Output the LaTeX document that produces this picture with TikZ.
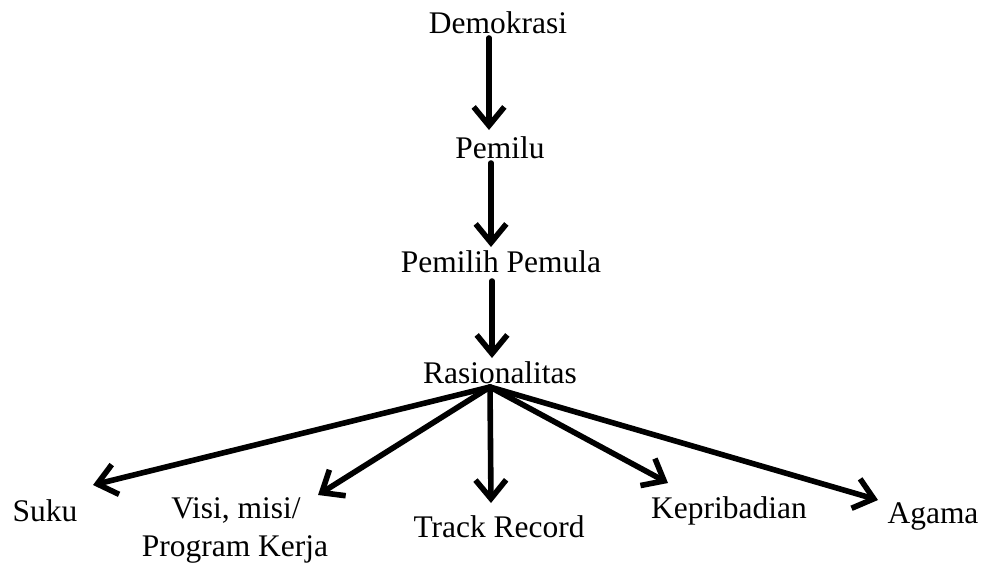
\documentclass[tikz,border=0pt]{standalone}
\usepackage{fontspec}
\setmainfont{Liberation Serif}
\usetikzlibrary{arrows.meta}
\begin{document}
\begin{tikzpicture}[x=0.75pt,y=-0.75pt,
  lbl/.style={anchor=base,inner sep=0pt,font=\fontsize{23.6}{28}\selectfont},
  arr/.style={line width=4.2pt,line cap=round,-{Straight Barb[length=14pt,width=23pt,line width=4.2pt]}}]
\useasboundingbox (0,0) rectangle (988,572);
% text nodes
\node[lbl] (dem) at (498,33) {Demokrasi};
\node[lbl] (pem) at (500,158) {Pemilu};
\node[lbl] (pp)  at (501,272) {Pemilih Pemula};
\node[lbl] (ras) at (500,383) {Rasionalitas};
\node[lbl] (suku) at (45,521) {Suku};
\node[lbl] (visi) at (236,518) {Visi, misi/};
\node[lbl] (prog) at (235,556) {Program Kerja};
\node[lbl] (track) at (499,537) {Track Record};
\node[lbl] (kep) at (729,518) {Kepribadian};
\node[lbl] (aga) at (933,523) {Agama};
% connector end points
\coordinate (demS) at (489,38);
\coordinate (pemN) at (489,130);
\coordinate (pemS) at (491,163);
\coordinate (ppN)  at (491,247);
\coordinate (ppS)  at (492,281);
\coordinate (rasN) at (492,358);
\coordinate (rasS) at (490,387);
\coordinate (sukuT) at (93,485);
\coordinate (visiT) at (318,495);
\coordinate (trackT) at (491,503);
\coordinate (kepT) at (668,483);
\coordinate (agaT) at (878,500);
% connectors
\draw[arr] (demS) -- (pemN);
\draw[arr] (pemS) -- (ppN);
\draw[arr] (ppS) -- (rasN);
\draw[arr] (rasS) -- (sukuT);
\draw[arr] (rasS) -- (visiT);
\draw[arr] (rasS) -- (trackT);
\draw[arr] (rasS) -- (kepT);
\draw[arr] (rasS) -- (agaT);
\end{tikzpicture}
\end{document}
